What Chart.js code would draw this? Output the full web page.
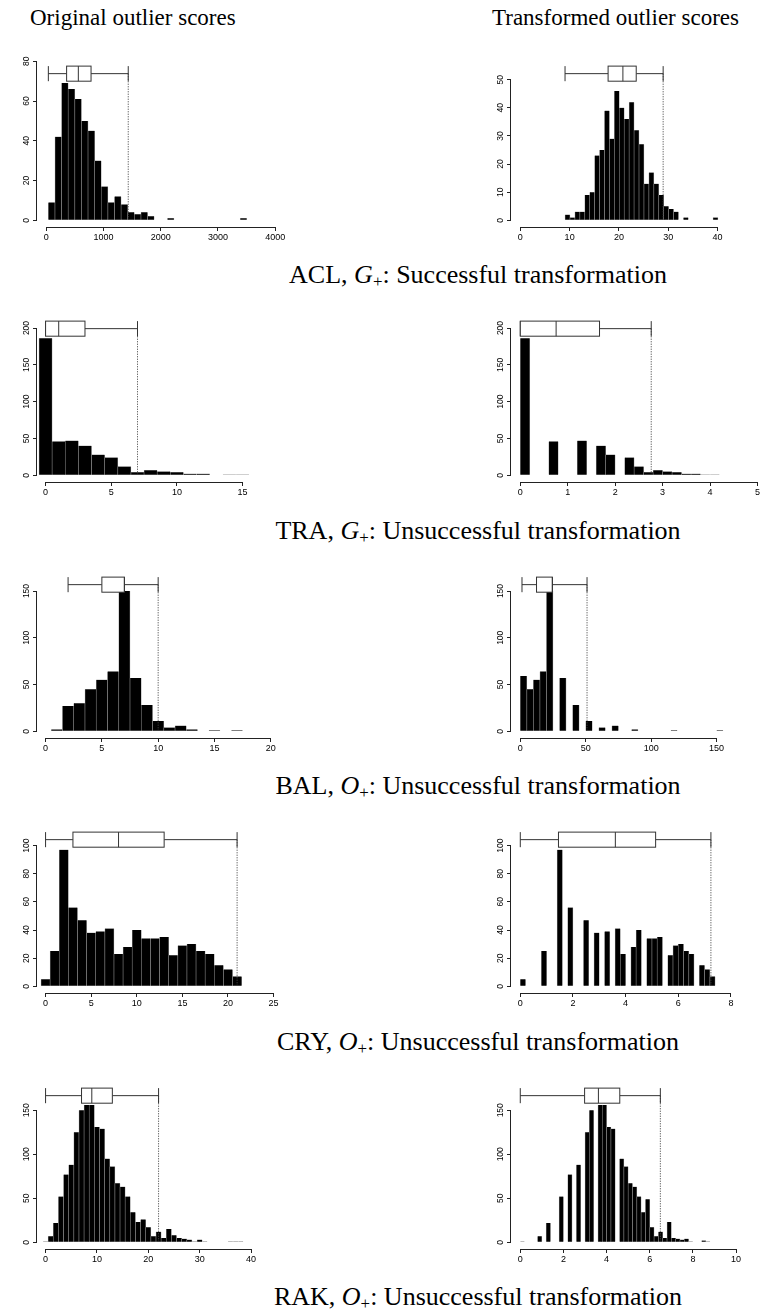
<!DOCTYPE html>
<html lang="en">
<head>
<meta charset="UTF-8">
<title>Original and transformed outlier scores</title>
<script src="https://cdn.jsdelivr.net/npm/chart.js"></script>
<style>
  body { margin: 0; background: #fff; }
  #page { position: relative; width: 762px; height: 1314px; overflow: hidden; }
  canvas { position: absolute; }
  .head, .caption {
    position: absolute;
    font-family: "Liberation Serif", "Times New Roman", serif;
    color: #000;
    white-space: nowrap;
    line-height: 1;
  }
  .head { font-size: 23px; top: 6px; }
  .caption { font-size: 26px; left: 0; width: 956px; text-align: center; }
  .caption sub { font-size: 65%; vertical-align: -0.25em; line-height: 0; }
</style>
</head>
<body>
<div id="page">
  <div class="head" style="left:30px">Original outlier scores</div>
  <div class="head" style="left:492px">Transformed outlier scores</div>
</div>

<script>
// rows of the figure
const datasetNames = ['ACL', 'TRA', 'BAL', 'CRY', 'RAK'];
const scoreSets = ['G', 'G', 'O', 'O', 'O'];
const outcomes = ['Successful', 'Unsuccessful', 'Unsuccessful', 'Unsuccessful', 'Unsuccessful'];

// histogram counts, one array per panel
const aclOrig  = [9, 42, 69, 66, 61, 50, 45, 30, 17, 9, 12, 8, 4, 3, 4, 2, 0, 0, 1, 0, 0, 0, 0, 0, 0, 0, 0, 0, 0, 1];
const aclTrans = [2, 1, 3, 3, 9, 10, 23, 25, 39, 29, 46, 40, 36, 42, 32, 27, 13, 17, 13, 9, 5, 4, 3, 0, 1, 0, 0, 0, 0, 0, 1];
const traOrig  = [186, 46, 47, 40, 28, 24, 12, 4, 7, 5, 4, 2, 2, 0, 1, 1];
const traTrans = [186, 0, 0, 46, 0, 0, 47, 0, 40, 28, 0, 24, 12, 4, 7, 5, 4, 2, 2, 1, 1];
const balOrig  = [2, 27, 30, 45, 55, 64, 150, 57, 28, 11, 4, 6, 2, 0, 1, 0, 1];
const balTrans = [59, 45, 55, 64, 150, 0, 57, 0, 28, 0, 11, 0, 4, 0, 6, 0, 0, 2, 0, 0, 0, 0, 0, 1, 0, 0, 0, 0, 0, 0, 1];
const cryOrig  = [5, 25, 97, 56, 47, 38, 39, 41, 23, 28, 40, 34, 34, 35, 22, 29, 30, 25, 23, 15, 12, 7];
const cryTrans = [5, 0, 0, 0, 25, 0, 0, 97, 0, 56, 0, 0, 47, 0, 38, 0, 39, 0, 41, 23, 0, 28, 40, 0, 34, 34, 35, 0, 22, 29, 30, 25, 23, 0, 15, 12, 7];
const rakOrig  = [1, 7, 22, 52, 77, 88, 125, 150, 156, 156, 131, 129, 95, 86, 67, 63, 52, 34, 23, 26, 17, 7, 12, 5, 15, 8, 5, 4, 3, 1, 3, 1, 0, 0, 0, 0, 1, 1, 1];
const rakTrans = [1, 0, 0, 0, 7, 0, 22, 0, 0, 52, 0, 77, 0, 88, 0, 125, 150, 0, 156, 156, 131, 129, 0, 95, 86, 67, 63, 52, 34, 49, 17, 7, 12, 5, 23, 5, 4, 3, 4, 1, 0, 0, 2, 1];

// histogram breaks: first break and bin width
const binStarts = [36, 9.07, -0.5, 0, 0.5, 0, -0.5, 0, -0.5, 0];
const binWidths = [115.6, 1, 1, 0.2, 1, 5, 1, 0.2, 1, 0.2];

// boxplot: lower whisker, q1, median, q3, upper whisker
const boxStats = [
  [36, 355, 560, 782, 1432],
  [9.07, 17.8, 20.8, 23.5, 28.96],
  [0, 0, 1, 3, 7],
  [0, 0, 0.755, 1.67, 2.76],
  [2, 5, 7, 7, 10],
  [1.3, 12.4, 24.5, 24.5, 51],
  [0, 3, 8, 13, 21],
  [0, 1.45, 3.61, 5.14, 7.24],
  [0, 7, 9, 13, 22],
  [0, 2.98, 3.62, 4.61, 6.49]
];

// axes
const xTicks = [
  [0, 1000, 2000, 3000, 4000], [0, 10, 20, 30, 40],
  [0, 5, 10, 15], [0, 1, 2, 3, 4, 5],
  [0, 5, 10, 15, 20], [0, 50, 100, 150],
  [0, 5, 10, 15, 20, 25], [0, 2, 4, 6, 8],
  [0, 10, 20, 30, 40], [0, 2, 4, 6, 8, 10]
];
const yTicks = [
  [0, 20, 40, 60, 80], [0, 10, 20, 30, 40, 50],
  [0, 50, 100, 150, 200], [0, 50, 100, 150, 200],
  [0, 50, 100, 150], [0, 50, 100, 150],
  [0, 20, 40, 60, 80, 100], [0, 20, 40, 60, 80, 100],
  [0, 50, 100, 150], [0, 50, 100, 150]
];
const xRanges = [
  [-162.5, 4224], [-1.885, 49.0],
  [-0.653, 18.46], [-0.196, 5.095],
  [-0.761, 21.53], [-7.1, 184.7],
  [-0.94, 26.58], [-0.353, 9.18],
  [-1.67, 47.2], [-0.43, 11.2]
];
const yLimits = [84.3, 59.6, 227.6, 227.6, 179.2, 179.2, 119.1, 119.1, 190.4, 190.4];

const panelCounts = [aclOrig, aclTrans, traOrig, traTrans, balOrig, balTrans, cryOrig, cryTrans, rakOrig, rakTrans];

// layout
const PLOT_W = 243, PLOT_H = 181, Y_AXIS_W = 30, X_AXIS_H = 24, PAD_R = 8;
const colLeft = [7, 481];
const firstTop = 45.7, rowPitch = 255.5;
const tickFont = '"Liberation Sans", Arial, sans-serif';
const tickSize = 9;
const ink = '#222';

// R-style axes, y labels and the boxplot on top of each histogram
const rPanel = {
  id: 'rPanel',
  afterDatasetsDraw(chart, args, opts) {
    const { ctx } = chart;
    const x = chart.scales.x, y = chart.scales.y;
    const [lo, q1, med, q3, hi] = opts.stats;
    const L = opts.lim;
    const cy = y.getPixelForValue(0.875 * L);
    const h = y.getPixelForValue(0.875 * L - 0.045 * L) - cy;
    const px = v => x.getPixelForValue(v);

    ctx.save();
    // dotted line from upper whisker down to zero
    ctx.strokeStyle = '#444';
    ctx.lineWidth = 0.9;
    ctx.setLineDash([1.2, 1.3]);
    ctx.beginPath();
    ctx.moveTo(px(hi), cy);
    ctx.lineTo(px(hi), y.getPixelForValue(0));
    ctx.stroke();
    ctx.setLineDash([]);

    ctx.strokeStyle = '#333';
    ctx.lineWidth = 1;
    ctx.beginPath();
    ctx.moveTo(px(lo), cy); ctx.lineTo(px(q1), cy);
    ctx.moveTo(px(q3), cy); ctx.lineTo(px(hi), cy);
    ctx.moveTo(px(lo), cy - h); ctx.lineTo(px(lo), cy + h);
    ctx.moveTo(px(hi), cy - h); ctx.lineTo(px(hi), cy + h);
    ctx.stroke();
    ctx.fillStyle = '#fff';
    ctx.fillRect(px(q1), cy - h, px(q3) - px(q1), 2 * h);
    ctx.strokeRect(px(q1), cy - h, px(q3) - px(q1), 2 * h);
    ctx.beginPath();
    ctx.moveTo(px(med), cy - h); ctx.lineTo(px(med), cy + h);
    ctx.stroke();
    ctx.restore();
  },
  afterDraw(chart) {
    const { ctx, chartArea } = chart;
    const x = chart.scales.x, y = chart.scales.y;
    const xt = x.ticks, yt = y.ticks;
    ctx.save();
    ctx.strokeStyle = ink;
    ctx.lineWidth = 1;
    ctx.beginPath();
    ctx.moveTo(x.getPixelForValue(xt[0].value), chartArea.bottom + 0.5);
    ctx.lineTo(x.getPixelForValue(xt[xt.length - 1].value), chartArea.bottom + 0.5);
    ctx.moveTo(chartArea.left - 0.5, y.getPixelForValue(yt[0].value));
    ctx.lineTo(chartArea.left - 0.5, y.getPixelForValue(yt[yt.length - 1].value));
    ctx.stroke();

    ctx.fillStyle = '#000';
    ctx.font = (tickSize - 0.5) + 'px ' + tickFont;
    ctx.textAlign = 'center';
    ctx.textBaseline = 'bottom';
    yt.forEach(t => {
      ctx.save();
      ctx.translate(chartArea.left - 6, y.getPixelForValue(t.value));
      ctx.rotate(-Math.PI / 2);
      ctx.fillText(String(t.value), 0, 0);
      ctx.restore();
    });
    ctx.restore();
  }
};

const page = document.getElementById('page');

for (let r = 0; r < datasetNames.length; r++) {
  const cap = document.createElement('div');
  cap.className = 'caption';
  cap.style.top = (262 + rowPitch * r) + 'px';
  cap.innerHTML = `${datasetNames[r]}, <i>${scoreSets[r]}</i><sub>+</sub>: ${outcomes[r]} transformation`;
  page.appendChild(cap);
}

for (let p = 0; p < panelCounts.length; p++) {
  const row = Math.floor(p / 2), col = p % 2;
  const cv = document.createElement('canvas');
  cv.width = Y_AXIS_W + PLOT_W + PAD_R;
  cv.height = PLOT_H + X_AXIS_H;
  cv.style.left = colLeft[col] + 'px';
  cv.style.top = Math.round(firstTop + rowPitch * row) + 'px';
  page.appendChild(cv);

  const start = binStarts[p], w = binWidths[p];
  const bars = panelCounts[p].map((c, i) => ({ x: start + w * (i + 0.5), y: c }));
  const L = yLimits[p];
  const xt = xTicks[p], yt = yTicks[p];

  new Chart(cv, {
    type: 'bar',
    data: {
      datasets: [{
        data: bars,
        backgroundColor: '#000',
        borderColor: '#8a8a8a',
        borderWidth: { left: 0.6, right: 0.6, top: 0, bottom: 0 },
        barPercentage: 1,
        categoryPercentage: 1,
        grouped: false
      }]
    },
    options: {
      responsive: false,
      animation: false,
      events: [],
      layout: { padding: 0 },
      plugins: {
        legend: { display: false },
        tooltip: { enabled: false },
        rPanel: { stats: boxStats[p], lim: L }
      },
      scales: {
        x: {
          type: 'linear',
          min: xRanges[p][0],
          max: xRanges[p][1],
          offset: false,
          afterBuildTicks: s => { s.ticks = xt.map(v => ({ value: v })); },
          afterFit: s => { s.height = X_AXIS_H; s.paddingLeft = 0; s.paddingRight = 0; },
          grid: { display: true, offset: false, drawOnChartArea: false, drawTicks: true, tickLength: 4, color: ink, lineWidth: 1 },
          border: { display: false },
          ticks: {
            autoSkip: false, maxRotation: 0, minRotation: 0, padding: 1.5,
            color: '#000', font: { family: tickFont, size: tickSize },
            callback: v => String(v)
          }
        },
        y: {
          type: 'linear',
          min: -0.04 * L,
          max: 1.04 * L,
          afterBuildTicks: s => { s.ticks = yt.map(v => ({ value: v })); },
          afterFit: s => { s.width = Y_AXIS_W; s.paddingTop = 0; s.paddingBottom = 0; },
          grid: { display: true, offset: false, drawOnChartArea: false, drawTicks: true, tickLength: 4, color: ink, lineWidth: 1 },
          border: { display: false },
          ticks: { display: false }
        }
      }
    },
    plugins: [rPanel]
  });
}
</script>
</body>
</html>
